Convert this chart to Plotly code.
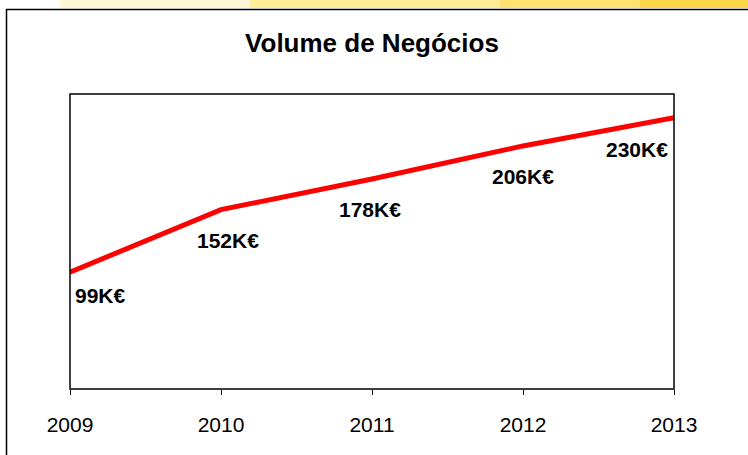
import plotly.graph_objects as go

years = [2009, 2010, 2011, 2012, 2013]
values = [99, 152, 178, 206, 230]
labels = ["99K€", "152K€", "178K€", "206K€", "230K€"]

# label placement (layout only)
label_anchor = ["left", "center", "center", "center", "right"]
label_dx = [3, 7, -2, 0, -4]
label_dy = [-23, -31, -31, -31, -32]

W, H = 748, 455
ml, mr, mt, mb = 70, 74, 94, 66
pw, ph = W - ml - mr, H - mt - mb
FONT = "Liberation Sans, Arial"

def px_to_paper_x(px):
    return (px - ml) / pw

def px_to_paper_y(py):
    return (H - mb - py) / ph

fig = go.Figure()
fig.add_trace(go.Scatter(
    x=years, y=values, mode="lines",
    line=dict(color="#ff0000", width=5),
    hoverinfo="skip", showlegend=False,
))

for xv, yv, t, a, dx, dy in zip(years, values, labels, label_anchor, label_dx, label_dy):
    fig.add_annotation(
        x=xv, y=yv, text="<b>" + t + "</b>", showarrow=False,
        xanchor=a, yanchor="middle", yshift=dy, xshift=dx,
        font=dict(family=FONT, size=21, color="#000000"),
    )

shapes = []
# top decorative strip
strip = [(60, 250, "#fff7d6"), (250, 500, "#ffec96"), (500, 640, "#ffe270"), (640, 748, "#ffd84a")]
for x0, x1, c in strip:
    shapes.append(dict(type="rect", xref="paper", yref="paper",
                       x0=px_to_paper_x(x0), x1=px_to_paper_x(x1),
                       y0=px_to_paper_y(8), y1=px_to_paper_y(0),
                       fillcolor=c, line=dict(width=0), layer="below"))
# outer frame
shapes.append(dict(type="rect", xref="paper", yref="paper",
                   x0=px_to_paper_x(6.5), x1=px_to_paper_x(800),
                   y0=px_to_paper_y(500), y1=px_to_paper_y(9.5),
                   line=dict(color="#000000", width=1.5), fillcolor="rgba(0,0,0,0)"))
# plot frame
shapes.append(dict(type="rect", xref="paper", yref="paper",
                   x0=0, x1=1, y0=0, y1=1,
                   line=dict(color="#000000", width=1.5), fillcolor="rgba(0,0,0,0)"))

fig.update_layout(
    width=W, height=H,
    margin=dict(l=ml, r=mr, t=mt, b=mb),
    paper_bgcolor="white", plot_bgcolor="white",
    title=dict(text="<b>Volume de Negócios</b>", x=0.5, xref="paper", xanchor="center",
               y=1 - 43 / H, yanchor="middle",
               font=dict(family=FONT, size=26, color="#000000")),
    xaxis=dict(range=[2009, 2013], tickvals=years, ticktext=[str(y) for y in years],
               showgrid=False, zeroline=False, ticks="outside", ticklen=5,
               tickcolor="#000000", tickwidth=1, showline=False,
               tickfont=dict(family=FONT, size=21, color="#000000"),
               ticklabelstandoff=12),
    yaxis=dict(range=[0, 250], visible=False, showgrid=False, zeroline=False),
    shapes=shapes,
    showlegend=False,
)

fig.write_html("out.html", config={"displayModeBar": False},
               post_script="document.body.style.margin='0';")
